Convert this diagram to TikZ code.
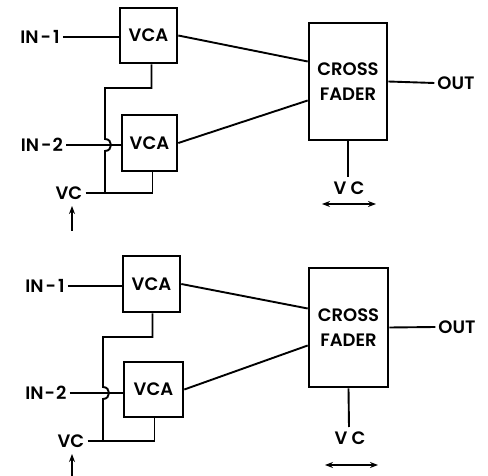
\documentclass[tikz,border=0pt]{standalone}
\usepackage{fontspec}
\setmainfont{Poppins}[UprightFont=* SemiBold]
\usetikzlibrary{arrows.meta}
\begin{document}
\begin{tikzpicture}[x=1pt,y=-1pt,
  box/.style={draw,line width=2.6pt,inner sep=0pt},
  lbl/.style={inner sep=3pt,font=\fontsize{18}{25}\selectfont},
  wire/.style={line width=1.9pt},
  arr/.style={line width=1.9pt,-{Stealth[length=8pt,width=6pt]}},
  darr/.style={line width=1.9pt,{Stealth[length=8pt,width=6pt]}-{Stealth[length=8pt,width=6pt]}}]
\useasboundingbox (0,0) rectangle (488,476);
% ---------- top ----------
\node[box,minimum width=57pt,minimum height=55pt,lbl] (va1) at (148.5,35.5) {VCA};
\node[box,minimum width=55pt,minimum height=56pt,lbl] (va2) at (149.5,143) {VCA};
\node[box,minimum width=78pt,minimum height=117pt,lbl,align=center] (cfa) at (348,81.5) {CROSS\\FADER};
\node[lbl] (ina1) at (40,37) {IN\kern2pt-\kern2pt1};
\node[lbl] (ina2) at (42,145) {IN\kern2pt-\kern1pt2};
\node[lbl] (vca) at (69,193) {VC};
\node[lbl] (outa) at (456,83) {OUT};
\node[lbl] (cvca) at (349,188) {V C};
\coordinate (ja1) at (105,88);
\coordinate (ja2) at (105,193);
\coordinate (ha1) at (105,139);
\coordinate (ha2) at (105,151);
\coordinate (aa1) at (72,231);
\coordinate (aa2) at (72,206);
\coordinate (da1) at (322,204);
\coordinate (da2) at (376,204);
\coordinate (fa) at (348,177);
\draw[wire] (ina1.east) -- (ina1.east -| va1.west);
\draw[wire] (ina2.east) -- (ina2.east -| va2.west);
\draw[wire] (va1.east) -- ([yshift=20pt]cfa.west);
\draw[wire] (va2.east) -- ([yshift=-19pt]cfa.west);
\draw[wire] (cfa.east) -- (outa.west);
\draw[wire] (cfa.south) -- (fa);
\draw[wire] ([xshift=3pt]va1.south) |- (ja1) -- (ha1) .. controls +(8,0) and +(8,0) .. (ha2) -- (ja2);
\draw[wire] (vca.east) -- (ja2) -| ([xshift=3pt]va2.south);
\draw[arr] (aa1) -- (aa2);
\draw[darr] (da1) -- (da2);
% ---------- bottom ----------
\node[box,minimum width=57pt,minimum height=56pt,lbl] (vb1) at (151.5,284) {VCA};
\node[box,minimum width=59pt,minimum height=55pt,lbl] (vb2) at (153.5,389.5) {VCA};
\node[box,minimum width=79pt,minimum height=119pt,lbl,align=center] (cfb) at (348.5,327.5) {CROSS\\FADER};
\node[lbl] (inb1) at (45,286) {IN\kern2pt-\kern2pt1};
\node[lbl] (inb2) at (46,393) {IN\kern1pt-\kern1pt2};
\node[lbl] (vcb) at (71,441) {VC};
\node[lbl] (outb) at (457,327) {OUT};
\node[lbl] (cvcb) at (350,438) {V C};
\coordinate (jb1) at (103,337);
\coordinate (jb2) at (103,441);
\coordinate (hb1) at (103,387);
\coordinate (hb2) at (103,399);
\coordinate (ab1) at (72,476);
\coordinate (ab2) at (72,454);
\coordinate (db1) at (325,465);
\coordinate (db2) at (378,465);
\coordinate (fb) at (349,427);
\draw[wire] (inb1.east) -- (inb1.east -| vb1.west);
\draw[wire] (inb2.east) -- (inb2.east -| vb2.west);
\draw[wire] (vb1.east) -- ([yshift=19pt]cfb.west);
\draw[wire] (vb2.east) -- ([yshift=-18pt]cfb.west);
\draw[wire] (cfb.east) -- (outb.west);
\draw[wire] (cfb.south) -- (fb);
\draw[wire] ([xshift=1pt]vb1.south) |- (jb1) -- (hb1) .. controls +(8,0) and +(8,0) .. (hb2) -- (jb2);
\draw[wire] (vcb.east) -- (jb2) -| ([xshift=1pt]vb2.south);
\draw[arr] (ab1) -- (ab2);
\draw[darr] (db1) -- (db2);
\end{tikzpicture}
\end{document}
